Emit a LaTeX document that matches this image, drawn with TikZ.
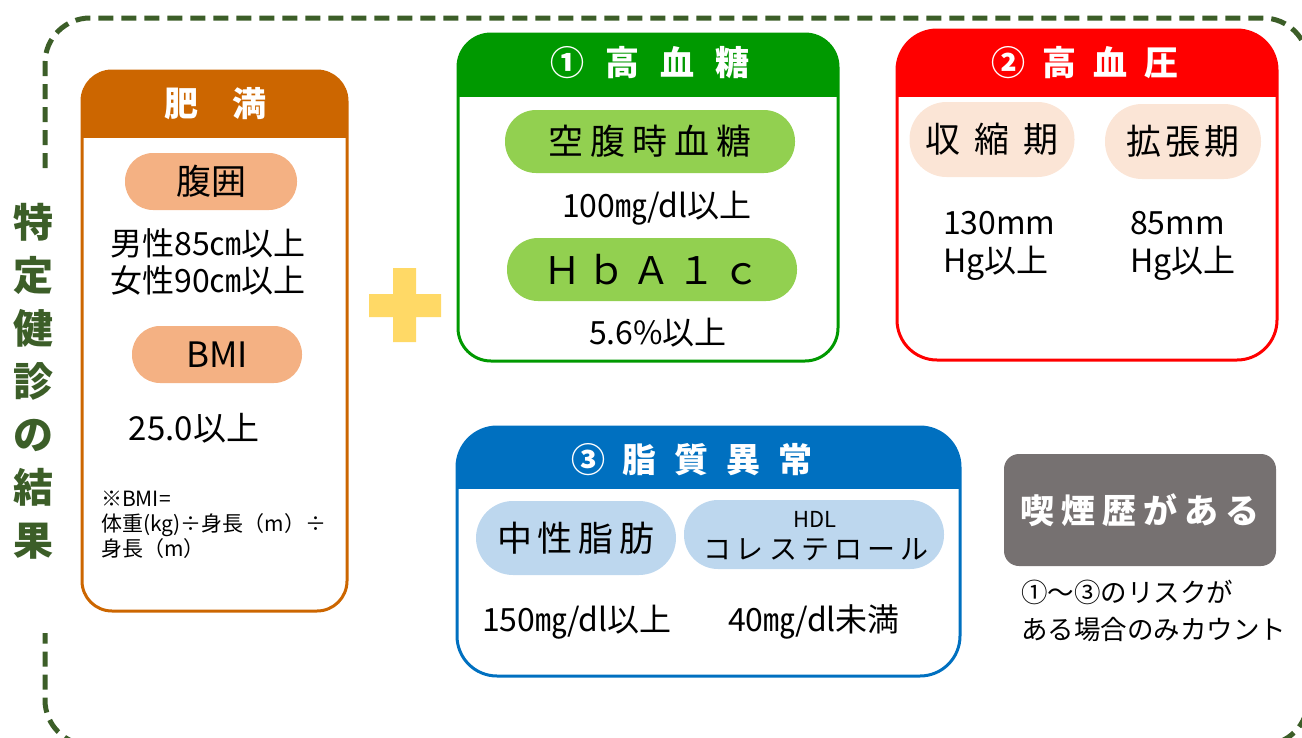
\documentclass[tikz,border=0pt]{standalone}
\usepackage{fontspec}
\setmainfont{Noto Sans CJK JP}
\definecolor{frameg}{RGB}{60,94,40}
\definecolor{fatc}{HTML}{CC6600}
\definecolor{peach}{HTML}{F4B183}
\definecolor{plusc}{HTML}{FFD966}
\definecolor{glc}{HTML}{009900}
\definecolor{lgreen}{HTML}{92D050}
\definecolor{bpc}{HTML}{FF0000}
\definecolor{lpeach}{HTML}{FBE5D6}
\definecolor{lipc}{HTML}{0070C0}
\definecolor{lblue}{HTML}{BDD7EE}
\definecolor{smokec}{HTML}{767171}
\newcommand\kk[1]{\hspace{#1pt}}
\begin{document}
\begin{tikzpicture}[x=1pt,y=-1pt,
  every node/.style={inner sep=0pt, outer sep=0pt},
  hdr/.style={font=\bfseries\fontsize{34}{40}\selectfont, text=white},
  pill/.style={fill=#1, draw=none},
  big/.style={font=\fontsize{35}{40}\selectfont},
  val/.style={font=\fontsize{32}{37}\selectfont},
  boxline/.style={line width=3pt}]
\useasboundingbox (0,0) rectangle (1302,737);
\clip (0,0) rectangle (1302,737);

% outer dashed frame
\draw[frameg, line width=5pt, dash pattern=on 15pt off 8pt, rounded corners=45pt]
  (45,168) -- (45,18) -- (1308,18) -- (1308,745) -- (45,745) -- (45,633);
\node[font=\bfseries\fontsize{40}{53}\selectfont, text=frameg, align=center] (title) at (33,381)
  {特\\定\\健\\診\\の\\結\\果};

% obesity box
\begin{scope}
  \clip[rounded corners=30pt] (82,71) rectangle (347,611);
  \fill[fatc] (82,71) rectangle (347,138);
\end{scope}
\draw[fatc, boxline, rounded corners=30pt] (82,71) rectangle (347,611);
\node[hdr] (fatT) at (215,104) {肥　満};
\node[pill=peach, minimum width=172pt, minimum height=57pt, rounded corners=28pt, big] (waist) at (211,181.5) {腹囲};
\node[val, align=center] (waistv) at (208,261.5) {男性85㎝以上\\女性90㎝以上};
\node[pill=peach, minimum width=170pt, minimum height=57pt, rounded corners=28pt, big] (bmi) at (217,354.5) {BMI};
\node[font=\fontsize{33}{37}\selectfont] (bmiv) at (194,428) {25.0以上};
\node[font=\fontsize{21}{25}\selectfont, anchor=west, align=left] (bminote) at (101,525)
  {※BMI=\\体重(kg)÷身長（m）÷\\身長（m）};

% plus sign
\fill[plusc] (369,294) rectangle (441,317) (393,268) rectangle (416,342);

% (1) hyperglycemia
\begin{scope}
  \clip[rounded corners=33pt] (458,34) rectangle (838,361);
  \fill[glc] (458,34) rectangle (838,97);
\end{scope}
\draw[glc, boxline, rounded corners=33pt] (458,34) rectangle (838,361);
\node[hdr] (glT) at (650,63) {①\kk{21}高\kk{21}血\kk{21}糖};
\node[pill=lgreen, minimum width=290pt, minimum height=63pt, rounded corners=31pt, big] (fbs) at (650,141.5)
  {空\kk{7}腹\kk{7}時\kk{7}血\kk{7}糖};
\node[val] (fbsv) at (657,208) {100㎎/dl以上};
\node[pill=lgreen, minimum width=290pt, minimum height=63pt, rounded corners=31pt, font=\fontsize{38}{42}\selectfont] (hba) at (652,269.5)
  {Ｈ\kk{7}ｂ\kk{7}Ａ\kk{7}１\kk{7}ｃ};
\node[val] (hbav) at (658,333) {5.6\%以上};

% (2) hypertension
\begin{scope}
  \clip[rounded corners=40pt] (897,30) rectangle (1277,360);
  \fill[bpc] (897,30) rectangle (1277,97);
\end{scope}
\draw[bpc, boxline, rounded corners=40pt] (897,30) rectangle (1277,360);
\node[hdr] (bpT) at (1085,63) {②\kk{17}高\kk{17}血\kk{17}圧};
\node[pill=lpeach, minimum width=165pt, minimum height=75pt, rounded corners=37pt, big] (sys) at (992,139.5)
  {収\kk{14}縮\kk{14}期};
\node[pill=lpeach, minimum width=156pt, minimum height=75pt, rounded corners=37pt, big] (dia) at (1183,141.5)
  {拡\kk{4}張\kk{4}期};
\node[anchor=west, align=left, font=\fontsize{32}{38}\selectfont] (sysv) at (943,246) {130mm\\Hg以上};
\node[anchor=west, align=left, font=\fontsize{32}{38}\selectfont] (diav) at (1130,246) {85mm\\Hg以上};

% (3) dyslipidemia
\begin{scope}
  \clip[rounded corners=40pt] (457,427) rectangle (960,676);
  \fill[lipc] (457,427) rectangle (960,489);
\end{scope}
\draw[lipc, boxline, rounded corners=40pt] (457,427) rectangle (960,676);
\node[hdr] (lipT) at (692,460) {③\kk{18}脂\kk{18}質\kk{18}異\kk{18}常};
\node[pill=lblue, minimum width=200pt, minimum height=74pt, rounded corners=37pt, big] (tg) at (576,538)
  {中\kk{6}性\kk{6}脂\kk{6}肪};
\node[pill=lblue, minimum width=260pt, minimum height=69pt, rounded corners=34pt] (hdlp) at (814,534.5) {};
\node[font=\fontsize{22}{26}\selectfont] (hdl1) at (815,519) {HDL};
\node[font=\fontsize{28}{32}\selectfont] (hdl2) at (816,550) {コ\kk{5}レ\kk{5}ス\kk{5}テ\kk{5}ロ\kk{5}ー\kk{5}ル};
\node[val] (tgv) at (577,622) {150㎎/dl以上};
\node[val] (hdlv) at (814,622) {40㎎/dl未満};

% smoking
\node[fill=smokec, rounded corners=15pt, minimum width=272pt, minimum height=112pt,
  text=white, font=\bfseries\fontsize{34}{40}\selectfont] (smoke) at (1140,510)
  {喫\kk{7}煙\kk{7}歴\kk{7}が\kk{7}あ\kk{7}る};
\node[font=\fontsize{26.5}{37}\selectfont, anchor=west, align=left] (smokenote) at (1021,611)
  {①～③のリスクが\\ある場合のみカウント};
\end{tikzpicture}
\end{document}
